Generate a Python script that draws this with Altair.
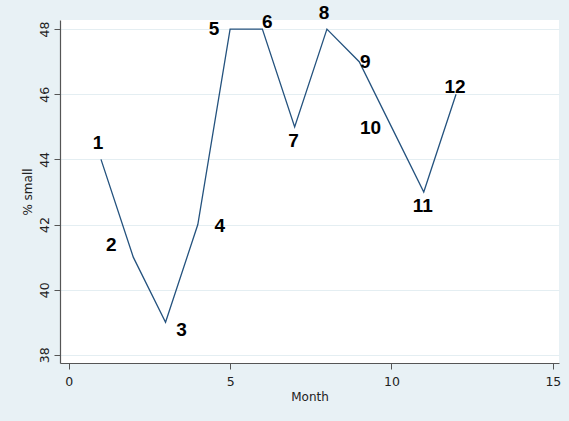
import altair as alt
import pandas as pd

months = [1, 2, 3, 4, 5, 6, 7, 8, 9, 10, 11, 12]
pct_small = [44, 41, 39, 42, 48, 48, 45, 48, 47, 45, 43, 46]
labels = ["1", "2", "3", "4", "5", "6", "7", "8", "9", "10", "11", "12"]
# clock position of each marker label (Stata-style mlabvpos)
label_clock = [12, 10, 4, 3, 9, 1, 6, 12, 0, 8, 6, 11]

x_ticks = [0, 5, 10, 15]
y_ticks = [38, 40, 42, 44, 46, 48]

df = pd.DataFrame({"Month": months, "small": pct_small, "lab": labels, "clock": label_clock})

x_scale = alt.Scale(domain=[-0.27, 15.19], nice=False, zero=False)
y_scale = alt.Scale(domain=[37.75, 48.28], nice=False, zero=False)

FONT = "DejaVu Sans"

base = alt.Chart(df)

line = base.mark_line(color="#24527e", strokeWidth=1.3).encode(
    x=alt.X("Month:Q", scale=x_scale,
            axis=alt.Axis(values=x_ticks, title="Month", grid=False, tickSize=6,
                          labelFont=FONT, labelFontSize=12.5, labelColor="#222222",
                          titleFont=FONT, titleFontSize=12, titleFontWeight="normal",
                          titleColor="#222222", domainColor="#555555", tickColor="#555555",
                          labelPadding=6, titlePadding=4, domainWidth=1.2)),
    y=alt.Y("small:Q", scale=y_scale,
            axis=alt.Axis(values=y_ticks, title="% small", grid=True, gridColor="#e4eef2",
                          gridWidth=1.2, tickSize=6, labelAngle=270,
                          labelFont=FONT, labelFontSize=12.5, labelColor="#222222",
                          labelBaseline="middle", labelAlign="center",
                          titleFont=FONT, titleFontSize=12, titleFontWeight="normal",
                          titleColor="#222222", domainColor="#555555", tickColor="#555555",
                          labelPadding=10, titlePadding=4, domainWidth=1.2)),
)

offsets = {
    12: (-3, -16), 10: (-22, -12), 4: (16, 8), 3: (22, 1), 9: (-16, 0),
    1: (5, -7), 6: (-1, 14), 0: (6, 0), 8: (-21, 1), 11: (-1, -7),
}

layers = [line]
for clk, (dx, dy) in offsets.items():
    layers.append(
        base.transform_filter(alt.datum.clock == clk).mark_text(
            font="Liberation Sans", fontSize=19, fontWeight="bold", color="#000000",
            dx=dx, dy=dy, align="center", baseline="middle",
        ).encode(x=alt.X("Month:Q", scale=x_scale), y=alt.Y("small:Q", scale=y_scale), text="lab:N")
    )

chart = alt.layer(*layers).properties(
    width=499, height=343,
    background="#e8f1f5",
    padding={"left": 60, "top": 20, "right": 10, "bottom": 58},
    autosize=alt.AutoSizeParams(type="none"),
).configure_view(fill="#ffffff", stroke=None)

chart.save("out.html", embed_options={"renderer": "svg", "actions": False})
